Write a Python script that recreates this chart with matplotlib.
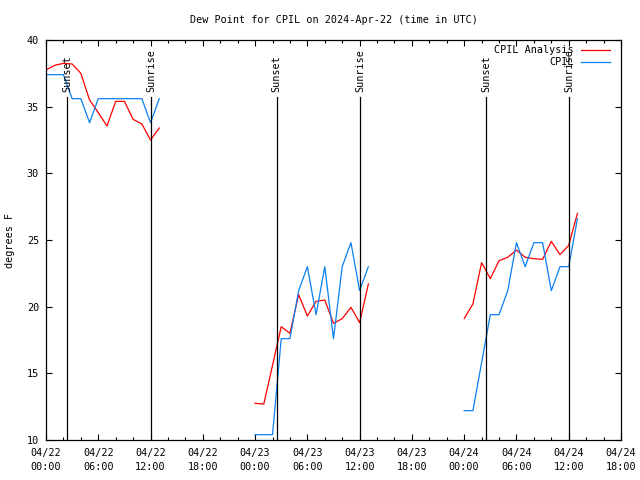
import matplotlib
matplotlib.use("Agg")
import matplotlib.pyplot as plt
import matplotlib.dates as mdates
from datetime import datetime, timedelta

plt.rcParams['font.family'] = ['DejaVu Sans Mono']

# ---- data (hour offsets from 2024-04-22 00:00 UTC) ----
base = datetime(2024, 4, 22, 0, 0)
seg_hours = [
    [0, 1, 2, 3, 4, 5, 6, 7, 8, 9, 10, 11, 12, 13],
    [24, 25, 26, 27, 28, 29, 30, 31, 32, 33, 34, 35, 36, 37],
    [48, 49, 50, 51, 52, 53, 54, 55, 56, 57, 58, 59, 60, 61],
]
analysis_vals = [
    [37.75, 38.1, 38.25, 38.2, 37.5, 35.5, 34.55, 33.55, 35.4, 35.4, 34.05, 33.7, 32.5, 33.4],
    [12.75, 12.7, 15.6, 18.5, 18.0, 20.9, 19.3, 20.4, 20.5, 18.75, 19.1, 19.95, 18.8, 21.7],
    [19.1, 20.2, 23.3, 22.1, 23.45, 23.7, 24.25, 23.7, 23.6, 23.55, 24.9, 23.9, 24.6, 27.0],
]
obs_vals = [
    [37.4, 37.4, 37.4, 35.6, 35.6, 33.8, 35.6, 35.6, 35.6, 35.6, 35.6, 35.6, 33.8, 35.6],
    [10.4, 10.4, 10.4, 17.6, 17.6, 21.2, 23.0, 19.4, 23.0, 17.6, 23.0, 24.8, 21.2, 23.0],
    [12.2, 12.2, 15.8, 19.4, 19.4, 21.2, 24.8, 23.0, 24.8, 24.8, 21.2, 23.0, 23.0, 26.6],
]
sunset_times = ["2024-04-22 02:27", "2024-04-23 02:28", "2024-04-24 02:32"]
sunrise_times = ["2024-04-22 12:03", "2024-04-23 12:05", "2024-04-24 12:04"]
series_labels = ["CPIL Analysis", "CPIL"]
title = "Dew Point for CPIL on 2024-Apr-22 (time in UTC)"
ylabel = "degrees F"
x_start = "2024-04-22 00:00"
x_end = "2024-04-24 18:00"
y_min, y_max = 10, 40

red = '#ff0000'
blue = '#0a80f0'
fs = 7.3

fig = plt.figure(figsize=(6.4, 4.8), dpi=100)
ax = fig.add_axes([46/640, 40/480, 575/640, 400/480])

for hrs, av, ov in zip(seg_hours, analysis_vals, obs_vals):
    t = [base + timedelta(hours=h) for h in hrs]
    ax.plot(t, av, color=red, lw=0.9)
    ax.plot(t, ov, color=blue, lw=0.9)

fmt = "%Y-%m-%d %H:%M"
for s in sunset_times:
    x = datetime.strptime(s, fmt)
    ax.axvline(x, ymin=0, ymax=0.8575, color='black', lw=0.9)
    ax.text(x, 0.87, "Sunset", rotation=90, ha='center', va='bottom',
            fontsize=fs, transform=ax.get_xaxis_transform())
for s in sunrise_times:
    x = datetime.strptime(s, fmt)
    ax.axvline(x, ymin=0, ymax=0.8575, color='black', lw=0.9)
    ax.text(x, 0.87, "Sunrise", rotation=90, ha='center', va='bottom',
            fontsize=fs, transform=ax.get_xaxis_transform())

ax.set_xlim(datetime.strptime(x_start, fmt), datetime.strptime(x_end, fmt))
ax.set_ylim(y_min, y_max)
ax.xaxis.set_major_locator(mdates.HourLocator(byhour=[0, 6, 12, 18]))
ax.xaxis.set_minor_locator(mdates.HourLocator(byhour=range(0, 24, 2)))
ax.xaxis.set_major_formatter(mdates.DateFormatter("%m/%d\n%H:%M"))
ax.set_yticks(range(y_min, y_max + 1, 5))

ax.tick_params(axis='both', which='both', direction='in', top=True, right=True,
               labelsize=fs, width=0.8, color='black')
ax.tick_params(axis='x', which='major', length=4, pad=6)
ax.tick_params(axis='x', which='minor', length=2)
ax.tick_params(axis='y', which='major', length=4, pad=5)
for lab in ax.get_xticklabels():
    lab.set_linespacing(1.45)
for sp in ax.spines.values():
    sp.set_linewidth(0.9)

ax.set_ylabel(ylabel, fontsize=fs)
ax.yaxis.set_label_coords(-0.054, 0.5)

fig.text(333.5/640, 1 - 20/480, title, ha='center', va='center', fontsize=fs)

# legend (top-right, text to the left of the sample line)
leg_colors = [red, blue]
leg_y = [0.976, 0.944]
for lbl, c, yy in zip(series_labels, leg_colors, leg_y):
    ax.text(0.918, yy, lbl, ha='right', va='center', fontsize=fs,
            transform=ax.transAxes)
    ax.plot([0.930, 0.981], [yy, yy], color=c, lw=0.9, transform=ax.transAxes)

fig.savefig("out.png", dpi=100)
